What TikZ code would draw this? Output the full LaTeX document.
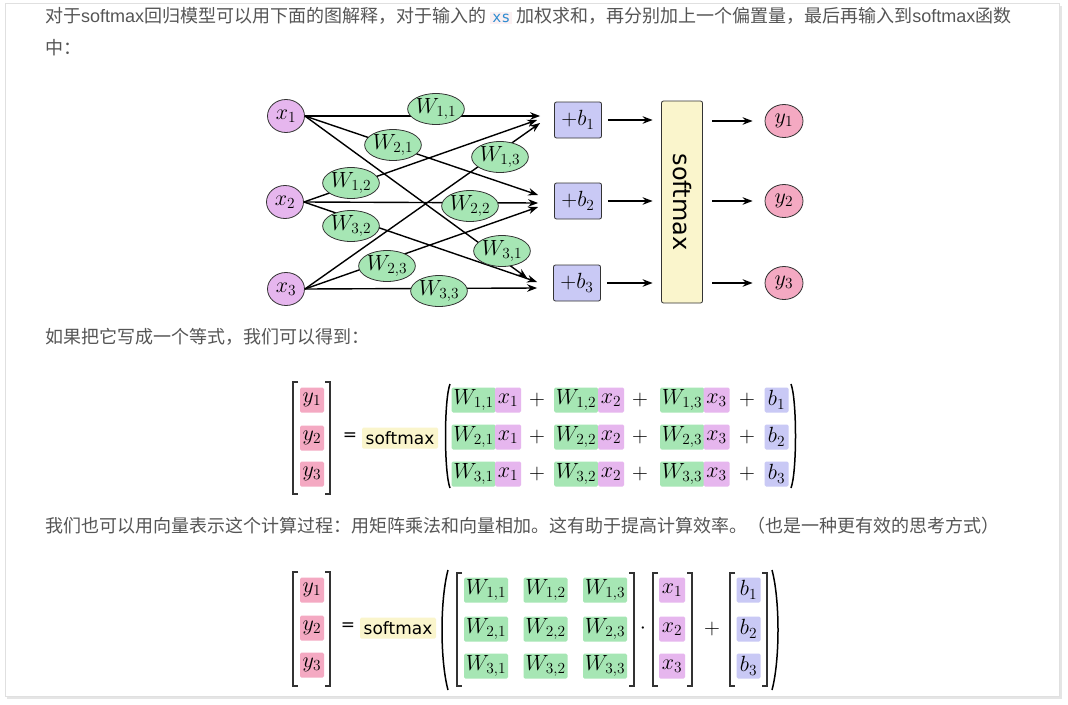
\RequirePackage{fix-cm}
\documentclass[tikz,border=0pt]{standalone}
\usepackage{graphicx}
\usepackage{fontspec}
\usetikzlibrary{shapes.geometric,arrows.meta}
\newfontfamily\cjk{Noto Sans CJK SC}
\newfontfamily\lat{Liberation Sans}
\newfontfamily\dvs{DejaVu Sans}
\newfontfamily\monof{DejaVu Sans Mono}
\definecolor{txt}{HTML}{555555}
\definecolor{wgreen}{HTML}{A6E6B4}
\definecolor{xpink}{HTML}{E6B6EE}
\definecolor{ypink}{HTML}{F4A9C2}
\definecolor{blav}{HTML}{C9C9F5}
\definecolor{smyel}{HTML}{FAF5CC}
\definecolor{codebg}{HTML}{FBF0F2}
\definecolor{codeblue}{HTML}{2E8BD0}
\definecolor{edge}{HTML}{333333}
\tikzset{
  mfont/.style={font=\fontsize{22}{26}\selectfont},
  xn/.style={ellipse, draw=edge, line width=0.8pt, fill=xpink, minimum width=37, minimum height=33, inner sep=0, mfont},
  yn/.style={ellipse, draw=edge, line width=0.8pt, fill=ypink, minimum width=38, minimum height=33, inner sep=0, mfont},
  wn/.style={ellipse, draw=edge, line width=0.8pt, fill=wgreen, minimum width=51, minimum height=31, inner sep=0, mfont},
  bn/.style={rectangle, rounded corners=2pt, draw=edge, line width=0.8pt, fill=blav, minimum width=47, minimum height=36, inner sep=0, mfont},
  smn/.style={rectangle, rounded corners=2pt, draw=edge, line width=0.8pt, fill=smyel, minimum width=41, minimum height=202, inner sep=0, font=\dvs\fontsize{24}{28}\selectfont},
  arr/.style={line width=1.4pt, -{Stealth[length=10pt,width=7.5pt]}},
  line/.style={anchor=base west, inner sep=0, text=txt, font=\cjk\fontsize{18}{20}\selectfont},
  cb/.style={inner sep=0, rounded corners=1.5pt, minimum height=25, mfont},
  wbox/.style={cb, fill=wgreen, minimum width=44},
  xbox/.style={cb, fill=xpink, minimum width=26},
  ybox/.style={cb, fill=ypink, minimum width=24},
  bbox/.style={cb, fill=blav, minimum width=24},
  op/.style={inner sep=0, mfont},
  smbox/.style={inner sep=0, rounded corners=1.5pt, fill=smyel, minimum width=76, minimum height=21, font=\dvs\fontsize{17}{20}\selectfont},
  brk/.style={line width=1.2pt, draw=edge},
  par/.style={line width=1.5pt, draw=black},
}
\begin{document}
\begin{tikzpicture}[x=1pt,y=-1pt]
\useasboundingbox (0,0) rectangle (1068,704);
% card
\fill[black!10] (7,6) rectangle (1062,699);
\fill[white, draw=black!12] (5,3) rectangle (1059,696);
% text lines
\node[line] (t1) at (45,22) {对于{\lat softmax}回归模型可以用下面的图解释，对于输入的 {\setlength\fboxsep{2pt}\colorbox{codebg}{\textcolor{codeblue}{\monof\fontsize{15}{18}\selectfont xs}}} 加权求和，再分别加上一个偏置量，最后再输入到{\lat softmax}函数};
\node[line] (t2) at (45,54) {中：};
\node[line] (t3) at (45,343) {如果把它写成一个等式，我们可以得到：};
\node[line] (t4) at (45,532) {我们也可以用向量表示这个计算过程：用矩阵乘法和向量相加。这有助于提高计算效率。（也是一种更有效的思考方式）};

% ---------- diagram ----------
\node[xn] (x1) at (286,116) {$x_1$};
\node[xn] (x2) at (285,202) {$x_2$};
\node[xn] (x3) at (286,289) {$x_3$};
\node[bn] (b1) at (578,120) {$+b_1$};
\node[bn] (b2) at (578,201) {$+b_2$};
\node[bn] (b3) at (577,283) {$+b_3$};
\node[smn] (sm) at (682,202) {\rotatebox{-90}{softmax}};
\node[yn] (y1) at (784,121) {$y_1$};
\node[yn] (y2) at (784,201) {$y_2$};
\node[yn] (y3) at (784,283) {$y_3$};

\draw[arr] (x1.east) -- ([xshift=-14pt,yshift=4pt]b1.west);
\draw[arr] (x1.east) -- ([xshift=-16pt,yshift=6pt]b2.west);
\draw[arr] (x1.east) -- ([xshift=-26pt,yshift=5pt]b3.west);
\draw[arr] (x2.east) -- ([xshift=-17pt,yshift=0pt]b1.west);
\draw[arr] (x2.east) -- ([xshift=-16pt,yshift=-2pt]b2.west);
\draw[arr] (x2.east) -- ([xshift=-16pt,yshift=1pt]b3.west);
\draw[arr] (x3.east) -- ([xshift=-14pt,yshift=-3pt]b1.west);
\draw[arr] (x3.east) -- ([xshift=-16pt,yshift=-6pt]b2.west);
\draw[arr] (x3.east) -- ([xshift=-16pt,yshift=-5pt]b3.west);

\node[wn] (w11) at (436,109) {$W_{1,1}$};
\node[wn] (w21) at (393,145) {$W_{2,1}$};
\node[wn] (w13) at (500,157) {$W_{1,3}$};
\node[wn] (w12) at (351,183) {$W_{1,2}$};
\node[wn] (w22) at (470,206) {$W_{2,2}$};
\node[wn] (w32) at (351,226) {$W_{3,2}$};
\node[wn] (w31) at (502,251) {$W_{3,1}$};
\node[wn] (w23) at (387,266) {$W_{2,3}$};
\node[wn] (w33) at (439,291) {$W_{3,3}$};

\foreach \i in {1,2,3}{
  \draw[arr] ([xshift=6pt]b\i.east) -- ([xshift=-8.5pt]sm.west |- b\i.east);
  \draw[arr] ([xshift=9.5pt]sm.east |- y\i.west) -- ([xshift=-12pt]y\i.west);
}

% ---------- equation 1 ----------
\draw[brk] (298,382) -- (293,382) -- (293,494) -- (298,494);
\draw[brk] (325,382) -- (330,382) -- (330,494) -- (325,494);
\node[ybox] (ea1) at (312,400) {$y_1$};
\node[ybox] (ea2) at (312,438) {$y_2$};
\node[ybox] (ea3) at (312,474) {$y_3$};
\node[inner sep=0, font=\dvs\fontsize{17}{20}\selectfont] (eq1) at (350,437) {=};
\node[smbox] (sm1) at (400,438) {softmax};
\draw[par] (450,384) .. controls (444,400) and (444,472) .. (450,488);
\draw[par] (791,384) .. controls (797,400) and (797,472) .. (791,488);
\foreach \r/\yy in {1/400,2/437,3/474}{
  \node[wbox] (ew\r1) at (473.5,\yy) {$W_{\r,1}$};
  \node[xbox] (ex\r1) at (508,\yy) {$x_1$};
  \node[op] (ep\r1) at (537,\yy) {$+$};
  \node[wbox] (ew\r2) at (576,\yy) {$W_{\r,2}$};
  \node[xbox] (ex\r2) at (611,\yy) {$x_2$};
  \node[op] (ep\r2) at (640,\yy) {$+$};
  \node[wbox] (ew\r3) at (682,\yy) {$W_{\r,3}$};
  \node[xbox] (ex\r3) at (716.5,\yy) {$x_3$};
  \node[op] (ep\r3) at (747,\yy) {$+$};
  \node[bbox] (eb\r) at (776.5,\yy) {$b_\r$};
}

% ---------- equation 2 ----------
\draw[brk] (298,572) -- (293,572) -- (293,686) -- (298,686);
\draw[brk] (325,572) -- (330,572) -- (330,686) -- (325,686);
\node[ybox] (fa1) at (312,590) {$y_1$};
\node[ybox] (fa2) at (312,628) {$y_2$};
\node[ybox] (fa3) at (312,665) {$y_3$};
\node[inner sep=0, font=\dvs\fontsize{17}{20}\selectfont] (eq2) at (348,627) {=};
\node[smbox] (sm2) at (398,628) {softmax};
\draw[par] (448,570) .. controls (440,600) and (440,660) .. (448,690);
\draw[par] (772,570) .. controls (780,600) and (780,660) .. (772,690);
\draw[brk] (462,573) -- (457,573) -- (457,686) -- (462,686);
\draw[brk] (629,573) -- (634,573) -- (634,686) -- (629,686);
\foreach \r/\yy in {1/590,2/629,3/666}{
  \node[wbox] (fw\r1) at (486,\yy) {$W_{\r,1}$};
  \node[wbox] (fw\r2) at (545.5,\yy) {$W_{\r,2}$};
  \node[wbox] (fw\r3) at (605,\yy) {$W_{\r,3}$};
  \node[xbox] (fx\r) at (672,\yy) {$x_\r$};
  \node[bbox] (fb\r) at (748.5,\yy) {$b_\r$};
}
\node[op] (dot) at (643,629) {$\cdot$};
\draw[brk] (658,573) -- (653,573) -- (653,686) -- (658,686);
\draw[brk] (687,573) -- (692,573) -- (692,686) -- (687,686);
\node[op] (pl2) at (712,629) {$+$};
\draw[brk] (735,573) -- (730,573) -- (730,686) -- (735,686);
\draw[brk] (762,573) -- (767,573) -- (767,686) -- (762,686);
\end{tikzpicture}
\end{document}
